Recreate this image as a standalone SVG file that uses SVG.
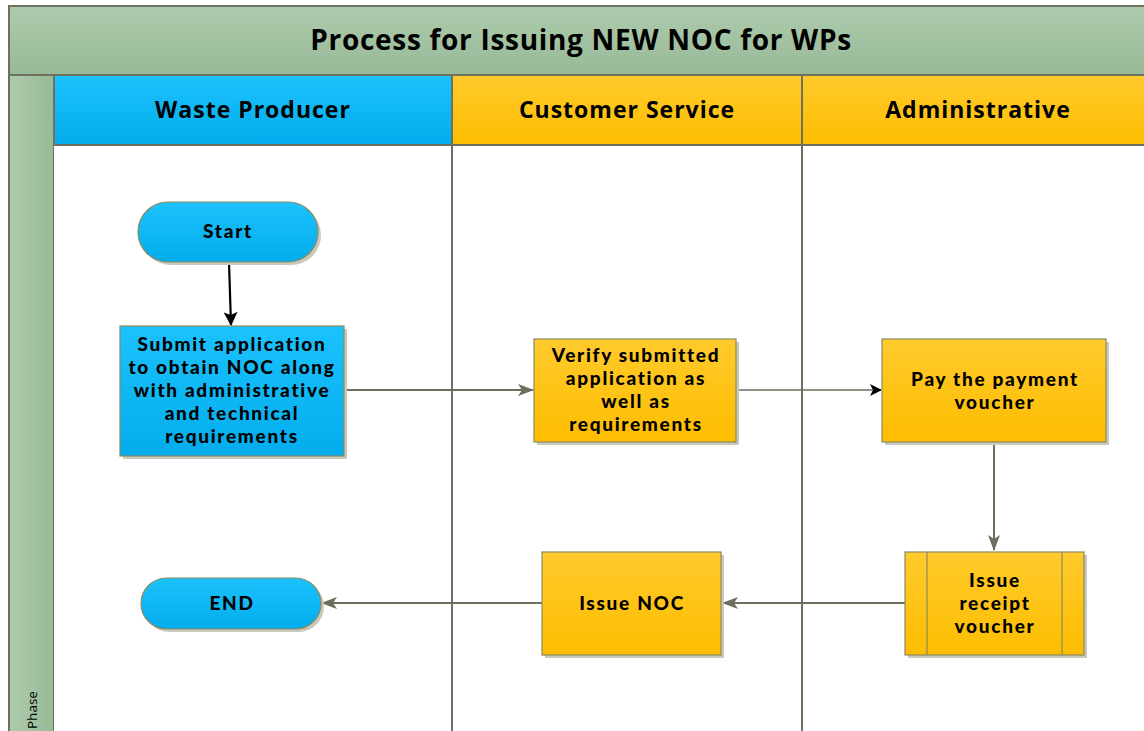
<svg xmlns="http://www.w3.org/2000/svg" width="1144" height="731" viewBox="0 0 1144 731">
<defs>
<linearGradient id="gGreen" x1="0" y1="0" x2="0" y2="1"><stop offset="0" stop-color="#aecbad"/><stop offset="1" stop-color="#97ba96"/></linearGradient>
<linearGradient id="gGreenH" x1="0" y1="0" x2="1" y2="0"><stop offset="0" stop-color="#aecbad"/><stop offset="1" stop-color="#97ba96"/></linearGradient>
<linearGradient id="gBlue" x1="0" y1="0" x2="0" y2="1"><stop offset="0" stop-color="#1bc2fd"/><stop offset="1" stop-color="#03acec"/></linearGradient>
<linearGradient id="gYel" x1="0" y1="0" x2="0" y2="1"><stop offset="0" stop-color="#ffca2c"/><stop offset="1" stop-color="#fdbd00"/></linearGradient>
<marker id="aBlack" markerWidth="14" markerHeight="14" refX="13" refY="7" orient="auto" markerUnits="userSpaceOnUse"><path d="M0,0 L14,7 L0,14 L3,7 Z" fill="#000"/></marker>
<marker id="aBlackS" markerWidth="12" markerHeight="12" refX="11" refY="6" orient="auto" markerUnits="userSpaceOnUse"><path d="M0,0 L12,6 L0,12 L3,6 Z" fill="#000"/></marker>
<marker id="aGrayL" markerWidth="16" markerHeight="12" refX="15" refY="6" orient="auto" markerUnits="userSpaceOnUse"><path d="M0,0 L16,6 L0,12 L4,6 Z" fill="#6b6f5c"/></marker>
</defs>
<style>
.frame{stroke:#6e715f;stroke-width:2}
.t{font-family:"Open Sans","DejaVu Sans",sans-serif;font-weight:bold;fill:#000;text-anchor:middle}
.hd{font-size:23px;letter-spacing:1px}
.nd{font-family:Lato,"Open Sans",sans-serif;font-weight:900;font-size:19px;letter-spacing:1.7px}
.node{stroke:#8c8a5f;stroke-width:1.2}
.shadow{fill:#c9c9bd}
.con{stroke:#6b6f5c;stroke-width:2;fill:none}
</style>
<g id="pool">
<rect x="9" y="6" width="1145" height="69" fill="url(#gGreen)" class="frame"/>
<text x="581" y="50" class="t" font-size="28" letter-spacing="0.7">Process for Issuing NEW NOC for WPs</text>
<rect x="9" y="75" width="45" height="670" fill="url(#gGreenH)" class="frame"/>
<text transform="translate(37,729) rotate(-90)" font-family="Open Sans,DejaVu Sans,sans-serif" font-size="13.5" fill="#000" text-anchor="start">Phase</text>
<rect x="54" y="145" width="1100" height="600" fill="#fff"/>
</g>
<g id="lane-waste-producer">
<rect x="54" y="75" width="398" height="70" fill="url(#gBlue)" class="frame"/>
<text x="253" y="118" class="t hd">Waste Producer</text>
</g>
<g id="lane-customer-service">
<rect x="452" y="75" width="350" height="70" fill="url(#gYel)" class="frame"/>
<text x="627" y="118" class="t hd">Customer Service</text>
<line x1="452" y1="145" x2="452" y2="745" class="frame"/>
</g>
<g id="lane-administrative">
<rect x="802" y="75" width="352" height="70" fill="url(#gYel)" class="frame"/>
<text x="978" y="118" class="t hd">Administrative</text>
<line x1="802" y1="145" x2="802" y2="745" class="frame"/>
</g>
<g id="connectors">
<line x1="229" y1="262" x2="231" y2="325" stroke="#000" stroke-width="2.2" marker-end="url(#aBlack)"/>
<line x1="344" y1="390" x2="533" y2="390" class="con" marker-end="url(#aGrayL)"/>
<line x1="736" y1="390" x2="881" y2="390" stroke="#6b6f5c" stroke-width="1.5" marker-end="url(#aBlackS)"/>
<line x1="994" y1="442" x2="994" y2="550" class="con" marker-end="url(#aGrayL)"/>
<line x1="905" y1="603" x2="723" y2="603" class="con" marker-end="url(#aGrayL)"/>
<line x1="542" y1="603" x2="322" y2="603" class="con" marker-end="url(#aGrayL)"/>
</g>
<g id="start">
<rect x="141" y="205" width="180" height="60" rx="30" class="shadow"/>
<rect x="138" y="202" width="180" height="60" rx="30" fill="url(#gBlue)" class="node" stroke="#6e715f"/>
<text x="228" y="238" class="t nd">Start</text>
</g>
<g id="submit">
<rect x="123" y="329" width="224" height="130" class="shadow"/>
<rect x="120" y="326" width="224" height="130" fill="url(#gBlue)" class="node" stroke="#6e715f"/>
<text class="t nd"><tspan x="232" y="351">Submit application</tspan><tspan x="232" y="374">to obtain NOC along</tspan><tspan x="232" y="397">with administrative</tspan><tspan x="232" y="420">and technical</tspan><tspan x="232" y="443">requirements</tspan></text>
</g>
<g id="verify">
<rect x="537" y="342" width="202" height="103" class="shadow"/>
<rect x="534" y="339" width="202" height="103" fill="url(#gYel)" class="node"/>
<text class="t nd"><tspan x="636" y="362">Verify submitted</tspan><tspan x="636" y="385">application as</tspan><tspan x="636" y="408">well as</tspan><tspan x="636" y="431">requirements</tspan></text>
</g>
<g id="pay">
<rect x="885" y="342" width="224" height="103" class="shadow"/>
<rect x="882" y="339" width="224" height="103" fill="url(#gYel)" class="node"/>
<text class="t nd"><tspan x="995" y="386">Pay the payment</tspan><tspan x="995" y="409">voucher</tspan></text>
</g>
<g id="receipt">
<rect x="908" y="555" width="179" height="103" class="shadow"/>
<rect x="905" y="552" width="179" height="103" fill="url(#gYel)" class="node"/>
<line x1="927" y1="552" x2="927" y2="655" class="node"/>
<line x1="1062" y1="552" x2="1062" y2="655" class="node"/>
<text class="t nd"><tspan x="995" y="587">Issue</tspan><tspan x="995" y="610">receipt</tspan><tspan x="995" y="633">voucher</tspan></text>
</g>
<g id="issue-noc">
<rect x="545" y="555" width="179" height="103" class="shadow"/>
<rect x="542" y="552" width="179" height="103" fill="url(#gYel)" class="node"/>
<text x="632" y="610" class="t nd">Issue NOC</text>
</g>
<g id="end">
<rect x="144" y="581" width="180" height="51" rx="25.5" class="shadow"/>
<rect x="141" y="578" width="180" height="51" rx="25.5" fill="url(#gBlue)" class="node" stroke="#6e715f"/>
<text x="232" y="610" class="t nd">END</text>
</g>
</svg>
